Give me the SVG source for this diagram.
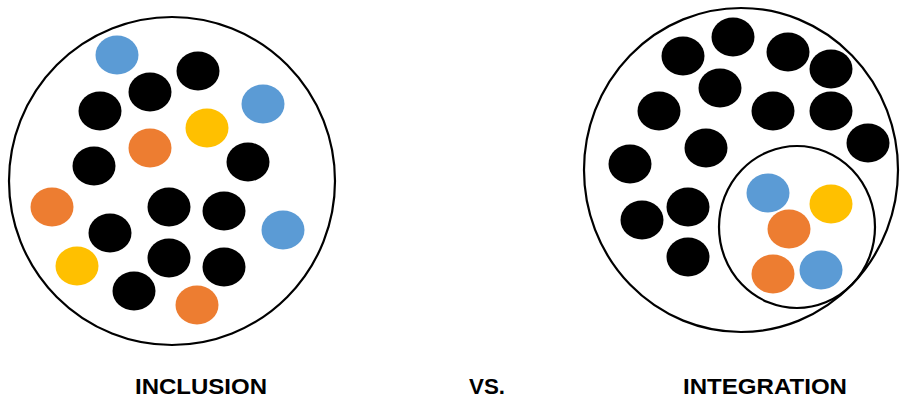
<svg xmlns="http://www.w3.org/2000/svg" width="900" height="399" viewBox="0 0 900 399">
<style>
.ring{fill:none;stroke:#000;stroke-width:2.2}
.k{fill:#000}.b{fill:#5B9BD5}.o{fill:#ED7D31}.y{fill:#FFC000}
.lbl{font-family:"Liberation Sans",Arial,sans-serif;font-weight:bold;font-size:22px;fill:#000}
</style>
<defs><ellipse id="d" cx="0" cy="0" rx="21.5" ry="19.5"/></defs>
<rect width="900" height="399" fill="#fff"/>
<g id="inclusion">
<ellipse class="ring" cx="172" cy="181" rx="163" ry="164"/>
<use href="#d" class="b" x="117" y="55"/>
<use href="#d" class="k" x="198" y="71"/>
<use href="#d" class="k" x="150" y="92"/>
<use href="#d" class="b" x="263" y="104"/>
<use href="#d" class="k" x="100" y="111"/>
<use href="#d" class="y" x="207" y="128"/>
<use href="#d" class="o" x="150" y="148"/>
<use href="#d" class="k" x="94" y="166"/>
<use href="#d" class="k" x="248" y="162"/>
<use href="#d" class="o" x="52" y="207"/>
<use href="#d" class="k" x="169" y="207"/>
<use href="#d" class="k" x="224" y="211"/>
<use href="#d" class="b" x="283" y="230"/>
<use href="#d" class="k" x="110" y="233"/>
<use href="#d" class="y" x="77" y="266"/>
<use href="#d" class="k" x="169" y="258"/>
<use href="#d" class="k" x="224" y="267"/>
<use href="#d" class="k" x="134" y="291"/>
<use href="#d" class="o" x="197" y="305"/>
</g>
<g id="integration">
<ellipse class="ring" cx="741" cy="170" rx="157" ry="162"/>
<use href="#d" class="k" x="733" y="37"/>
<use href="#d" class="k" x="683" y="56"/>
<use href="#d" class="k" x="788" y="52"/>
<use href="#d" class="k" x="831" y="69"/>
<use href="#d" class="k" x="720" y="88"/>
<use href="#d" class="k" x="659" y="111"/>
<use href="#d" class="k" x="773" y="111"/>
<use href="#d" class="k" x="831" y="111"/>
<use href="#d" class="k" x="868" y="143"/>
<use href="#d" class="k" x="706" y="148"/>
<use href="#d" class="k" x="630" y="164"/>
<use href="#d" class="k" x="688" y="207"/>
<use href="#d" class="k" x="642" y="220"/>
<use href="#d" class="k" x="688" y="257"/>
</g>
<g id="integrated-group">
<ellipse class="ring" cx="797" cy="227" rx="78" ry="81"/>
<use href="#d" class="b" x="768" y="193"/>
<use href="#d" class="y" x="831" y="204"/>
<use href="#d" class="o" x="789" y="229"/>
<use href="#d" class="o" x="773" y="274"/>
<use href="#d" class="b" x="821" y="270"/>
</g>
<g id="labels">
<text class="lbl" x="135" y="394" textLength="132" lengthAdjust="spacingAndGlyphs">INCLUSION</text>
<text class="lbl" x="469" y="394" textLength="36" lengthAdjust="spacingAndGlyphs">VS.</text>
<text class="lbl" x="683" y="394" textLength="164" lengthAdjust="spacingAndGlyphs">INTEGRATION</text>
</g>
</svg>
